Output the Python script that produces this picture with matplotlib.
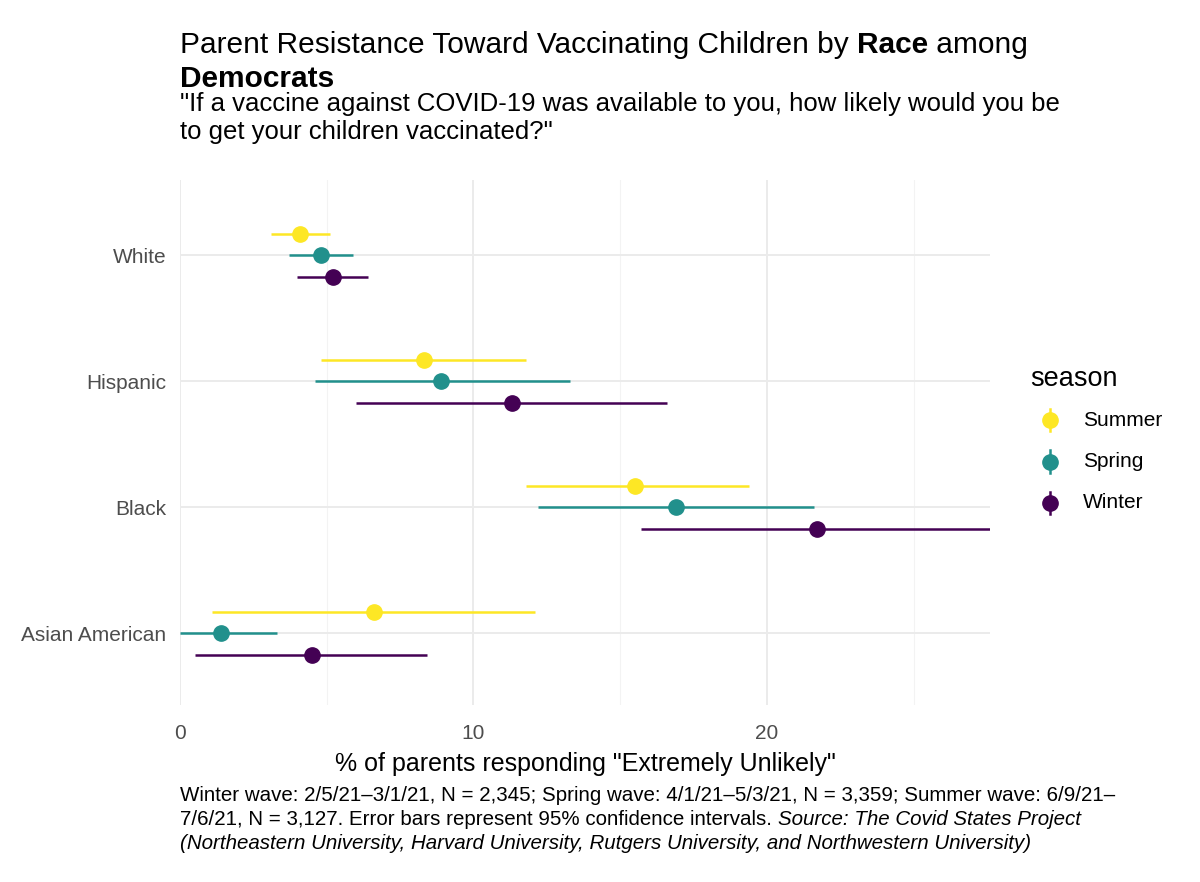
import matplotlib
matplotlib.use("Agg")
from matplotlib import pyplot as plt

plt.rcParams["font.family"] = ["Liberation Sans", "DejaVu Sans"]

races = ["White", "Hispanic", "Black", "Asian American"]
seasons = ["Summer", "Spring", "Winter"]
colors = {"Summer": "#FDE725", "Spring": "#21908C", "Winter": "#440154"}

est = {
    "Summer": [4.1, 8.3, 15.5, 6.6],
    "Spring": [4.8, 8.9, 16.9, 1.4],
    "Winter": [5.2, 11.3, 21.7, 4.5],
}
lo = {
    "Summer": [3.1, 4.8, 11.8, 1.1],
    "Spring": [3.7, 4.6, 12.2, 0.0],
    "Winter": [4.0, 6.0, 15.7, 0.5],
}
hi = {
    "Summer": [5.1, 11.8, 19.4, 12.1],
    "Spring": [5.9, 13.3, 21.6, 3.3],
    "Winter": [6.4, 16.6, 27.6, 8.4],
}
dodge = {"Summer": 0.17, "Spring": 0.0, "Winter": -0.17}

fig = plt.figure(figsize=(12, 8.82), dpi=100)
ax = fig.add_axes([0.15, 0.2007, 0.675, 0.5953])

ypos = [4, 3, 2, 1]
for s in seasons:
    ys = [y + dodge[s] for y in ypos]
    ax.hlines(ys, lo[s], hi[s], color=colors[s], lw=1.8, zorder=3)
    ax.plot(est[s], ys, "o", color=colors[s], ms=11, zorder=4)

ax.set_xlim(0, 27.6)
ax.set_ylim(0.43, 4.6)
ax.set_xticks([0, 10, 20])
ax.set_xticks([5, 15, 25], minor=True)
ax.set_yticks(ypos, races)
ax.grid(which="major", color="#EBEBEB", lw=1.4)
ax.grid(which="minor", axis="x", color="#F3F3F3", lw=0.8)
ax.set_axisbelow(True)
for sp in ax.spines.values():
    sp.set_visible(False)
ax.tick_params(which="both", length=0, labelsize=15, labelcolor="#4D4D4D")
ax.tick_params(axis="y", pad=10)
ax.tick_params(axis="x", pad=14)
ax.set_xlabel('% of parents responding "Extremely Unlikely"', fontsize=18, labelpad=6)

# title with bold pieces
renderer = fig.canvas.get_renderer()
x0 = 180 / 1200
def fy(px):
    return 1 - px / 882

parts = [("Parent Resistance Toward Vaccinating Children by ", "normal"),
         ("Race", "bold"), (" among", "normal")]
x = x0
for txt, w in parts:
    t = fig.text(x, fy(53), txt, fontsize=21.5, fontweight=w, va="baseline")
    x += t.get_window_extent(renderer).width / 1200
fig.text(x0, fy(87), "Democrats", fontsize=21.5, fontweight="bold", va="baseline")
fig.text(x0, fy(111),
         '"If a vaccine against COVID-19 was available to you, how likely would you be',
         fontsize=18.5, va="baseline")
fig.text(x0, fy(139), 'to get your children vaccinated?"', fontsize=18.5, va="baseline")

# legend
fig.text(1030 / 1200, fy(386), "season", fontsize=19.5, va="baseline")
for i, s in enumerate(seasons):
    yy = fy(420 + i * 41.5)
    fig.lines.append(plt.Line2D([1050 / 1200] * 2, [yy - 0.013, yy + 0.013],
                                color=colors[s], lw=1.8, transform=fig.transFigure))
    fig.lines.append(plt.Line2D([1050 / 1200], [yy], marker="o", ms=11,
                                color=colors[s], transform=fig.transFigure))
    fig.text(1083 / 1200, yy, s, fontsize=15, va="center")

# caption
fig.text(x0, fy(801),
         "Winter wave: 2/5/21\u20133/1/21, N = 2,345; Spring wave: 4/1/21\u20135/3/21, N = 3,359; Summer wave: 6/9/21\u2013",
         fontsize=14.8, va="baseline")
line2 = fig.text(x0, fy(825),
                 "7/6/21, N = 3,127. Error bars represent 95% confidence intervals. ",
                 fontsize=14.8, va="baseline")
w2 = line2.get_window_extent(renderer).width / 1200
fig.text(x0 + w2, fy(825), "Source: The Covid States Project",
         fontsize=14.8, style="italic", va="baseline")
fig.text(x0, fy(849),
         "(Northeastern University, Harvard University, Rutgers University, and Northwestern University)",
         fontsize=14.8, style="italic", va="baseline")

fig.savefig("out.png", dpi=100, facecolor="white")
